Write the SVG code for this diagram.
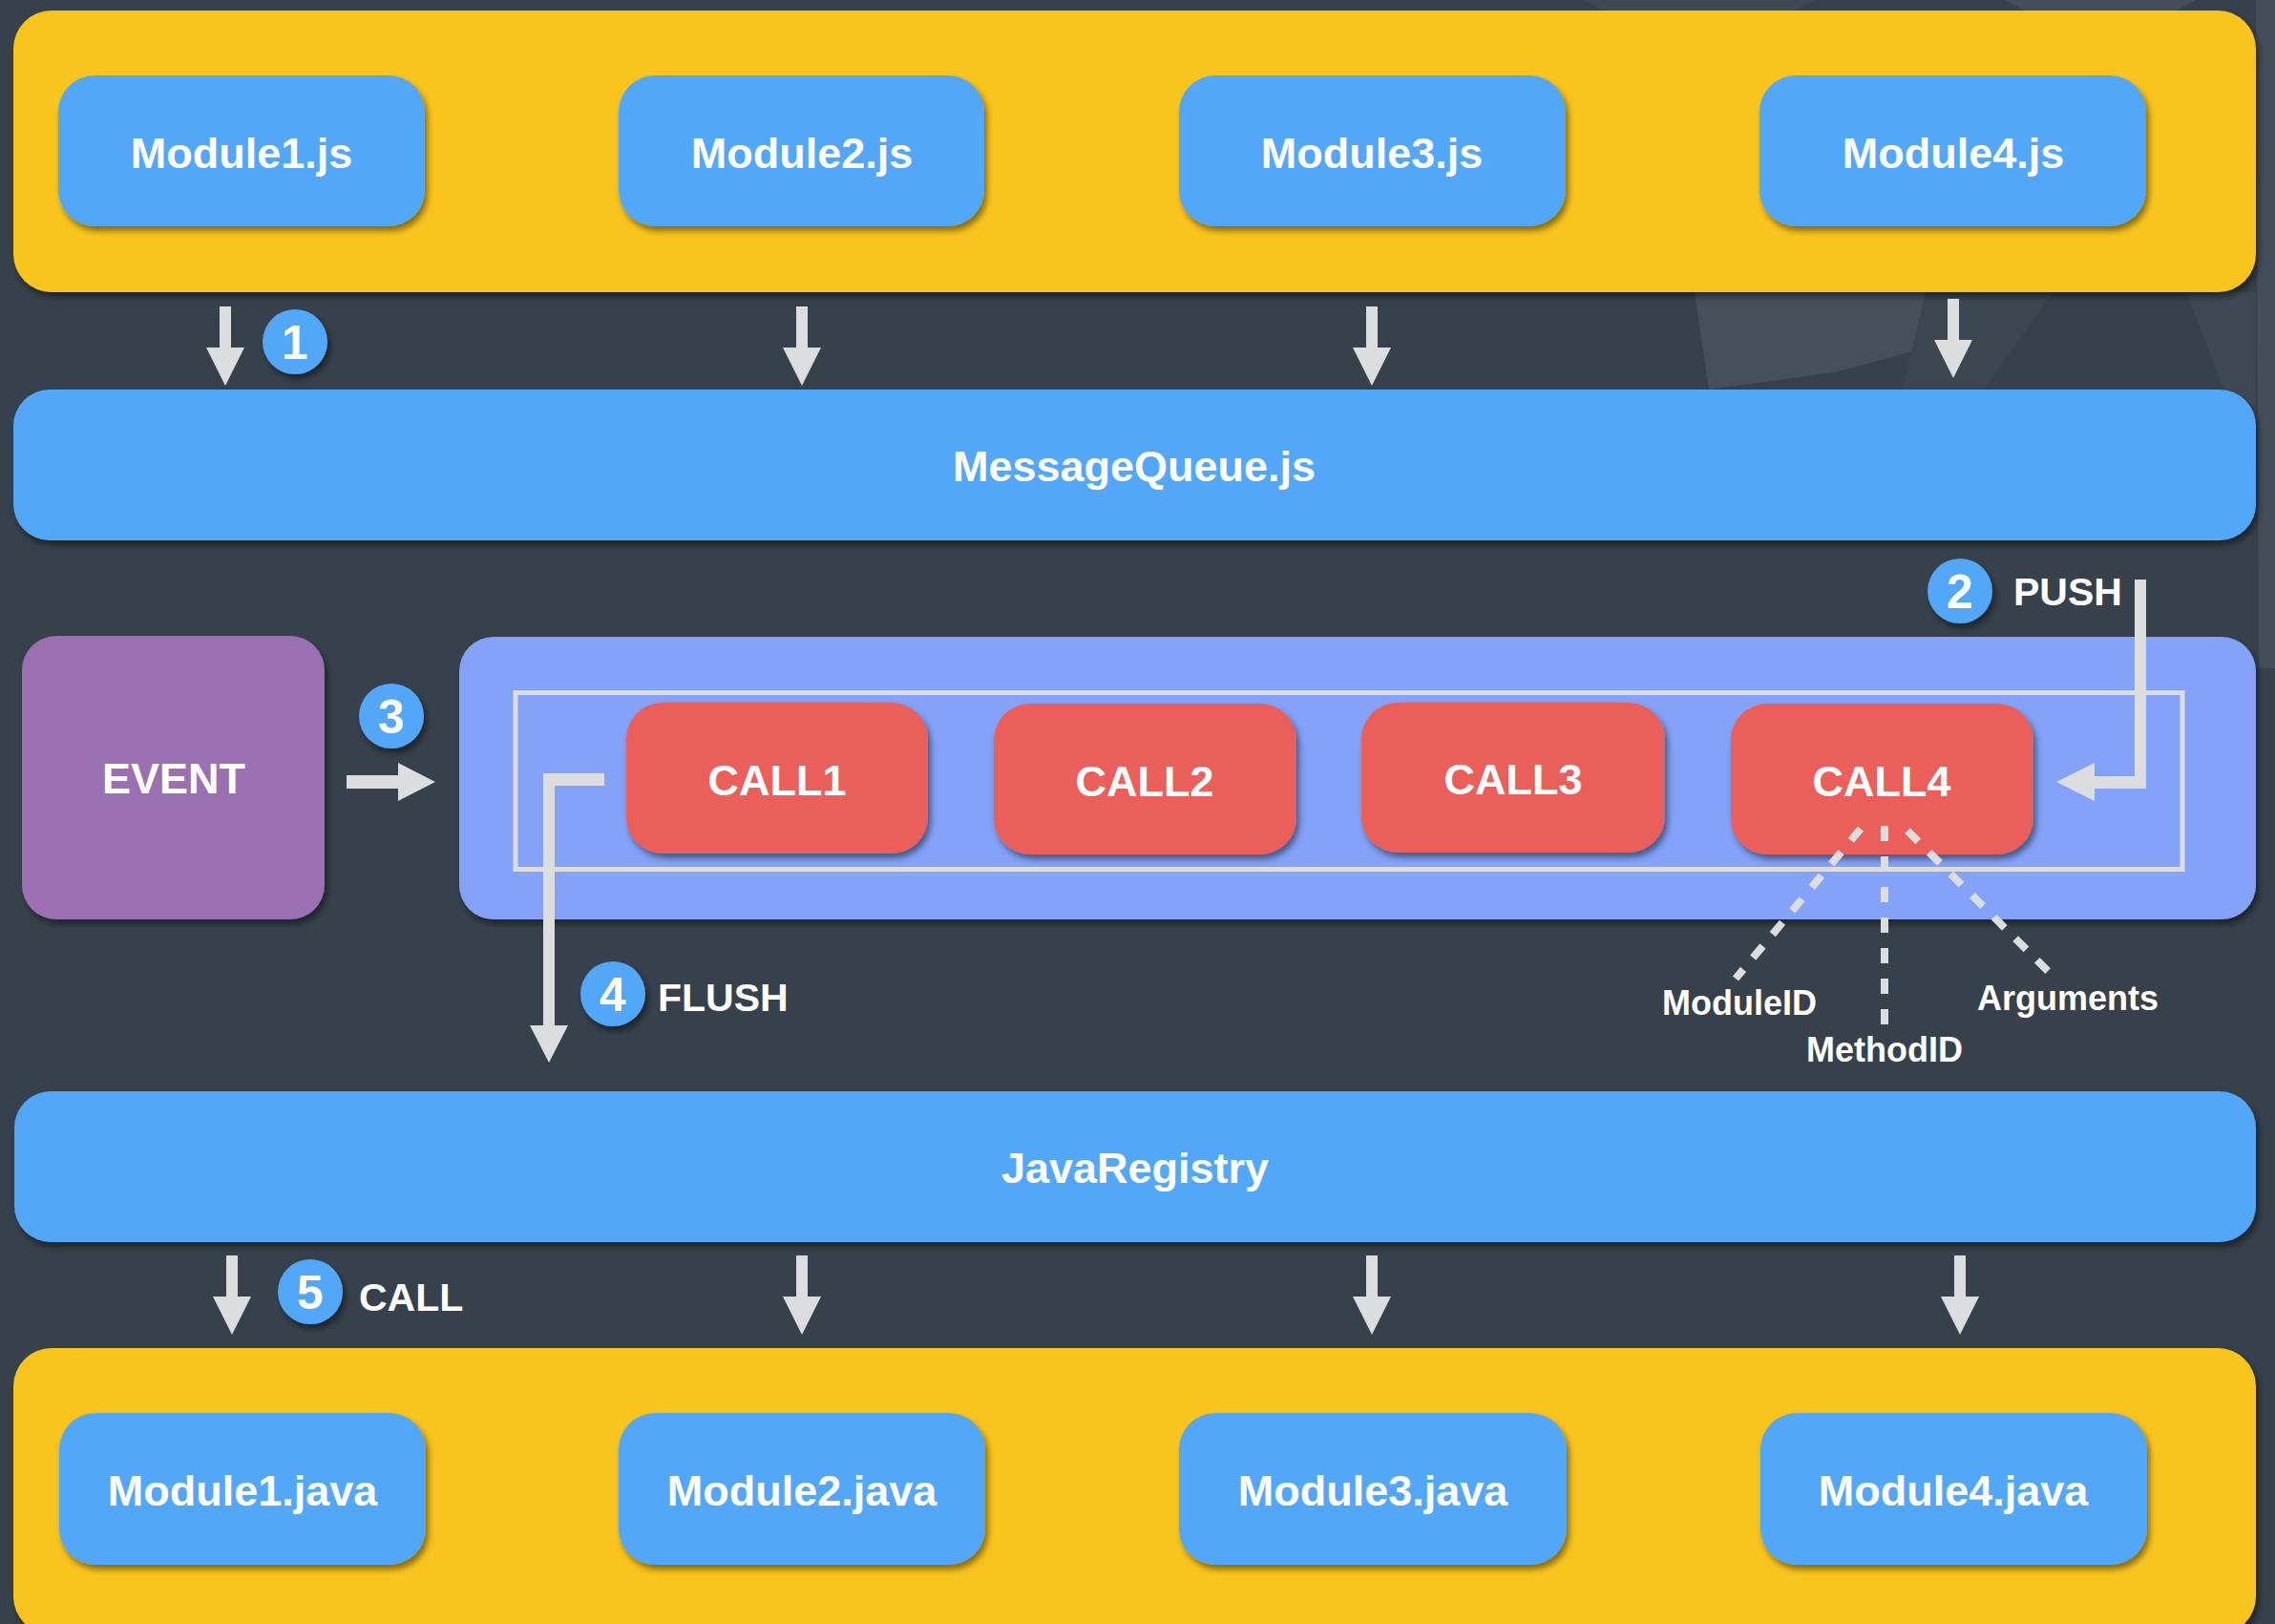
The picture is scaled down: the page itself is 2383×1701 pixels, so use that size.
<svg xmlns="http://www.w3.org/2000/svg" xmlns:xlink="http://www.w3.org/1999/xlink" width="2383" height="1701" viewBox="0 0 2383 1701">
<style>
.lbl{font-family:"Liberation Sans",Arial,Helvetica,sans-serif;font-weight:bold;fill:#ffffff;text-anchor:middle}
.big{font-size:45px}
.mid{font-size:41px;text-anchor:start}
.sm{font-size:36px}
.num{font-size:50px}
.yellow{fill:#F9C41A}
.blue{fill:#52A7F9}
.red{fill:#EB5E5A}
.arrow{fill:#DCDDDF}
.dash{stroke:#DCDDDF;stroke-width:8;stroke-dasharray:16 16;fill:none}
</style>
<defs>
<filter id="sh" x="-10%" y="-10%" width="125%" height="140%">
<feDropShadow dx="3" dy="5" stdDeviation="3" flood-color="#000" flood-opacity="0.45"/>
</filter>
<path id="down" d="M-6,0 H6 V43 H20 L0,83 L-20,43 H-6 Z"/>
</defs>
<rect x="0" y="0" width="2383" height="1701" fill="#36414B"/>
<g id="bg-shapes">
<polygon points="1775,306 2017,306 2019,364 1921,390 1790,408" fill="#46505B"/>
<polygon points="2017,306 2150,306 2070,420 1990,420" fill="#3C4650"/>
<polygon points="2290,306 2363,306 2363,520 2330,410" fill="#3E4852"/>
<polygon points="2363,0 2383,0 2383,700 2366,700" fill="#444E58"/>
<polygon points="1660,0 1900,0 1880,11 1680,11" fill="#3F4953"/>
<polygon points="2100,0 2300,0 2280,11 2120,11" fill="#444E58"/>
</g>
<g id="js-layer">
<rect x="14" y="11" width="2349" height="295" rx="40" class="yellow" filter="url(#sh)"/>
</g>
<g id="module1-js"><rect x="61" y="79" width="384" height="158" rx="38" class="blue" filter="url(#sh)"/><text x="253" y="176" class="lbl big">Module1.js</text></g>
<g id="module2-js"><rect x="648" y="79" width="383" height="158" rx="38" class="blue" filter="url(#sh)"/><text x="840" y="176" class="lbl big">Module2.js</text></g>
<g id="module3-js"><rect x="1235" y="79" width="405" height="158" rx="38" class="blue" filter="url(#sh)"/><text x="1437" y="176" class="lbl big">Module3.js</text></g>
<g id="module4-js"><rect x="1843" y="79" width="405" height="158" rx="38" class="blue" filter="url(#sh)"/><text x="2046" y="176" class="lbl big">Module4.js</text></g>
<g id="messagequeue"><rect x="14" y="408" width="2349" height="158" rx="38" class="blue" filter="url(#sh)"/><text x="1188" y="504" class="lbl big">MessageQueue.js</text></g>
<g id="event"><rect x="23" y="666" width="317" height="297" rx="36" fill="#9A70B2" filter="url(#sh)"/><text x="182" y="831" class="lbl big">EVENT</text></g>
<g id="queue">
<rect x="481" y="667" width="1882" height="296" rx="36" fill="#83A2F8" filter="url(#sh)"/>
<rect x="540" y="725.5" width="1746" height="185" fill="none" stroke="#DCDDDF" stroke-width="5"/>
</g>
<g id="call1"><rect x="656" y="736" width="316" height="158" rx="38" class="red" filter="url(#sh)"/><text x="814" y="833" class="lbl big">CALL1</text></g>
<g id="call2"><rect x="1041" y="737" width="317" height="158" rx="38" class="red" filter="url(#sh)"/><text x="1199" y="834" class="lbl big">CALL2</text></g>
<g id="call3"><rect x="1426" y="736" width="318" height="157" rx="38" class="red" filter="url(#sh)"/><text x="1585" y="832" class="lbl big">CALL3</text></g>
<g id="call4"><rect x="1813" y="737" width="317" height="158" rx="38" class="red" filter="url(#sh)"/><text x="1971" y="834" class="lbl big">CALL4</text></g>
<g id="javaregistry"><rect x="15" y="1143" width="2348" height="158" rx="38" class="blue" filter="url(#sh)"/><text x="1189" y="1239" class="lbl big">JavaRegistry</text></g>
<g id="java-layer">
<rect x="14" y="1412" width="2349" height="300" rx="40" class="yellow" filter="url(#sh)"/>
</g>
<g id="module1-java"><rect x="62" y="1480" width="384" height="159" rx="38" class="blue" filter="url(#sh)"/><text x="254" y="1577" class="lbl big">Module1.java</text></g>
<g id="module2-java"><rect x="648" y="1480" width="384" height="159" rx="38" class="blue" filter="url(#sh)"/><text x="840" y="1577" class="lbl big">Module2.java</text></g>
<g id="module3-java"><rect x="1235" y="1480" width="406" height="159" rx="38" class="blue" filter="url(#sh)"/><text x="1438" y="1577" class="lbl big">Module3.java</text></g>
<g id="module4-java"><rect x="1844" y="1480" width="405" height="159" rx="38" class="blue" filter="url(#sh)"/><text x="2046" y="1577" class="lbl big">Module4.java</text></g>
<g id="connectors">
<use xlink:href="#down" href="#down" class="arrow" transform="translate(236,321)"/>
<use xlink:href="#down" href="#down" class="arrow" transform="translate(840,321)"/>
<use xlink:href="#down" href="#down" class="arrow" transform="translate(1437,321)"/>
<use xlink:href="#down" href="#down" class="arrow" transform="translate(2046,313)"/>
<use xlink:href="#down" href="#down" class="arrow" transform="translate(243,1315)"/>
<use xlink:href="#down" href="#down" class="arrow" transform="translate(840,1315)"/>
<use xlink:href="#down" href="#down" class="arrow" transform="translate(1437,1315)"/>
<use xlink:href="#down" href="#down" class="arrow" transform="translate(2053,1315)"/>
<polygon class="arrow" points="363,812 417,812 417,799 456,819 417,839 417,826 363,826"/>
<polygon class="arrow" points="633,810 569,810 569,1074 555,1074 575,1113 595,1074 581,1074 581,823 633,823"/>
<polygon class="arrow" points="2236,607 2248,607 2248,826 2194,826 2194,839 2154,819 2194,799 2194,813 2236,813"/>
<line class="dash" x1="1949" y1="868" x2="1818" y2="1025"/>
<line class="dash" x1="1974" y1="865" x2="1974" y2="1073"/>
<line class="dash" x1="1998" y1="870" x2="2146" y2="1018"/>
</g>
<g id="step1"><circle cx="309" cy="358" r="34" class="blue" filter="url(#sh)"/><text x="309" y="376" class="lbl num">1</text></g>
<g id="step2"><circle cx="2053" cy="619" r="34" class="blue" filter="url(#sh)"/><text x="2053" y="637" class="lbl num">2</text><text x="2109" y="634" class="lbl mid">PUSH</text></g>
<g id="step3"><circle cx="410" cy="750" r="34" class="blue" filter="url(#sh)"/><text x="410" y="768" class="lbl num">3</text></g>
<g id="step4"><circle cx="642" cy="1041" r="34" class="blue" filter="url(#sh)"/><text x="642" y="1059" class="lbl num">4</text><text x="689" y="1059" class="lbl mid">FLUSH</text></g>
<g id="step5"><circle cx="325" cy="1353" r="34" class="blue" filter="url(#sh)"/><text x="325" y="1371" class="lbl num">5</text><text x="376" y="1373" class="lbl mid">CALL</text></g>
<g id="call-fields">
<text x="1822" y="1063" class="lbl sm">ModuleID</text>
<text x="1974" y="1112" class="lbl sm">MethodID</text>
<text x="2166" y="1058" class="lbl sm">Arguments</text>
</g>
</svg>
